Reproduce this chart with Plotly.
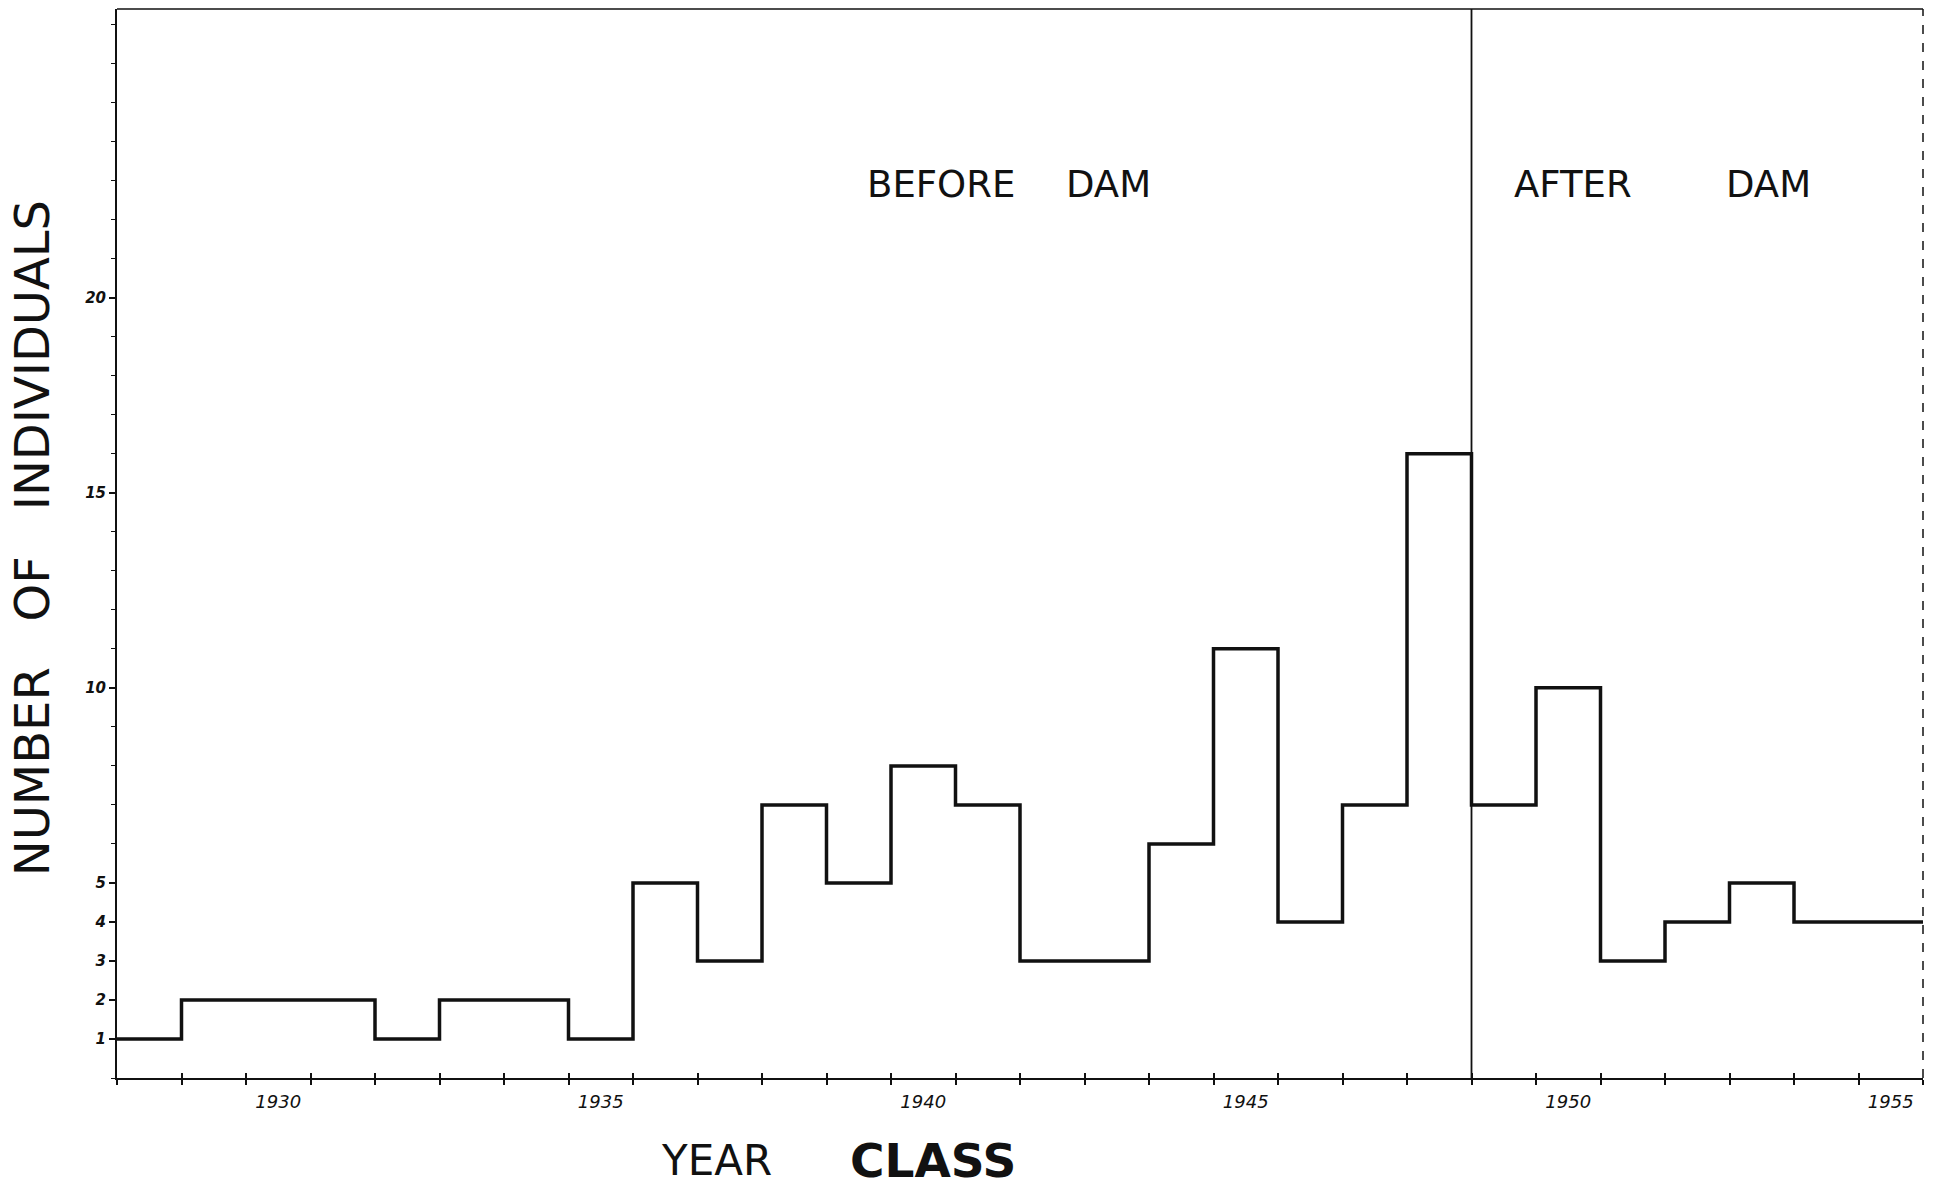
import plotly.graph_objects as go

# ---- data ----
years = [1928, 1929, 1930, 1931, 1932, 1933, 1934, 1935, 1936, 1937,
         1938, 1939, 1940, 1941, 1942, 1943, 1944, 1945, 1946, 1947,
         1948, 1949, 1950, 1951, 1952, 1953, 1954, 1955]
counts = [1, 2, 2, 2, 1, 2, 2, 1, 5, 3,
          7, 5, 8, 7, 3, 3, 6, 11, 4, 7,
          16, 7, 10, 3, 4, 5, 4, 4]
year_label_vals = [1930, 1935, 1940, 1945, 1950, 1955]
year_label_text = ["1930", "1935", "1940", "1945", "1950", "1955"]
y_tick_vals = [1, 2, 3, 4, 5, 10, 15, 20]
y_tick_text = ["1", "2", "3", "4", "5", "10", "15", "20"]
dam_year = 1948.5  # boundary between before/after dam

# ---- derived step geometry (bin edges from the year list) ----
edges = [y - 0.5 for y in years] + [years[-1] + 0.5]
step_y = counts + [counts[-1]]
x_min, x_max = edges[0], edges[-1]

FONT = "DejaVu Sans"
INK = "#111111"

fig = go.Figure()
fig.add_trace(go.Scatter(
    x=edges, y=step_y, mode="lines", line_shape="hv",
    line=dict(color=INK, width=3.5), showlegend=False, hoverinfo="skip"))
# invisible helper trace for the overlay axis carrying the inner tick marks
fig.add_trace(go.Scatter(x=[x_min, x_max], y=[0, 0], xaxis="x2", mode="lines",
                         line=dict(width=0), showlegend=False, hoverinfo="skip"))

fig.update_layout(
    width=1939, height=1187,
    margin=dict(l=117, r=16, t=9, b=109),
    paper_bgcolor="white", plot_bgcolor="white",
    font=dict(family=FONT, color=INK),
    xaxis=dict(
        range=[x_min, x_max], showgrid=False, zeroline=False,
        showline=True, linecolor=INK, linewidth=2,
        tickmode="array", tickvals=year_label_vals, ticktext=year_label_text,
        ticks="", ticklabelstandoff=6,
        tickfont=dict(size=18, family=FONT, style="italic", color=INK),
        minor=dict(tickvals=edges, ticks="outside", ticklen=5, tickwidth=1.5,
                   tickcolor=INK, showgrid=False),
    ),
    xaxis2=dict(
        range=[x_min, x_max], overlaying="x", anchor="y", side="bottom",
        showgrid=False, zeroline=False, showline=False,
        tickmode="array", tickvals=edges, ticks="inside", ticklen=5,
        tickwidth=1.5, tickcolor=INK, showticklabels=False,
    ),
    yaxis=dict(
        range=[0, 27.4], showgrid=False, zeroline=False,
        showline=True, linecolor=INK, linewidth=2,
        tickmode="array", tickvals=y_tick_vals, ticktext=y_tick_text,
        ticks="outside", ticklen=6, tickwidth=1.5, tickcolor=INK,
        tickfont=dict(size=15, family=FONT, style="italic", weight="bold", color=INK),
        minor=dict(dtick=1, tick0=0, ticks="outside", ticklen=4, tickwidth=1.2,
                   tickcolor=INK, showgrid=False),
    ),
)

# frame: solid top line, broken right edge
fig.add_shape(type="line", xref="paper", yref="paper", x0=0, x1=1, y0=1, y1=1,
              line=dict(color=INK, width=1.5))
fig.add_shape(type="line", xref="paper", yref="paper", x0=1, x1=1, y0=0, y1=1,
              line=dict(color=INK, width=1.5, dash="dash"))
# dam divider
fig.add_shape(type="line", xref="x", yref="paper", x0=dam_year, x1=dam_year,
              y0=0, y1=1, line=dict(color=INK, width=1.8))

def note(text, x, y, size, angle=0, bold=False):
    fig.add_annotation(
        text=f"<b>{text}</b>" if bold else text, xref="paper", yref="paper",
        x=x, y=y, xanchor="center", yanchor="middle", showarrow=False,
        textangle=angle,
        font=dict(family=FONT, size=size, color=INK))

note("BEFORE", 0.456, 0.836, 37)
note("DAM", 0.549, 0.836, 37)
note("AFTER", 0.806, 0.836, 37)
note("DAM", 0.9145, 0.836, 37)
note("NUMBER\u00a0\u00a0 OF\u00a0\u00a0 INDIVIDUALS", -0.047, 0.505, 48, angle=-90)
note("YEAR", 0.332, -0.077, 42)
note("CLASS", 0.452, -0.077, 47, bold=True)

fig.write_html(
    "out.html",
    config={"displayModeBar": False},
    post_script="document.body.style.margin='0px';document.body.style.overflow='hidden';",
)
